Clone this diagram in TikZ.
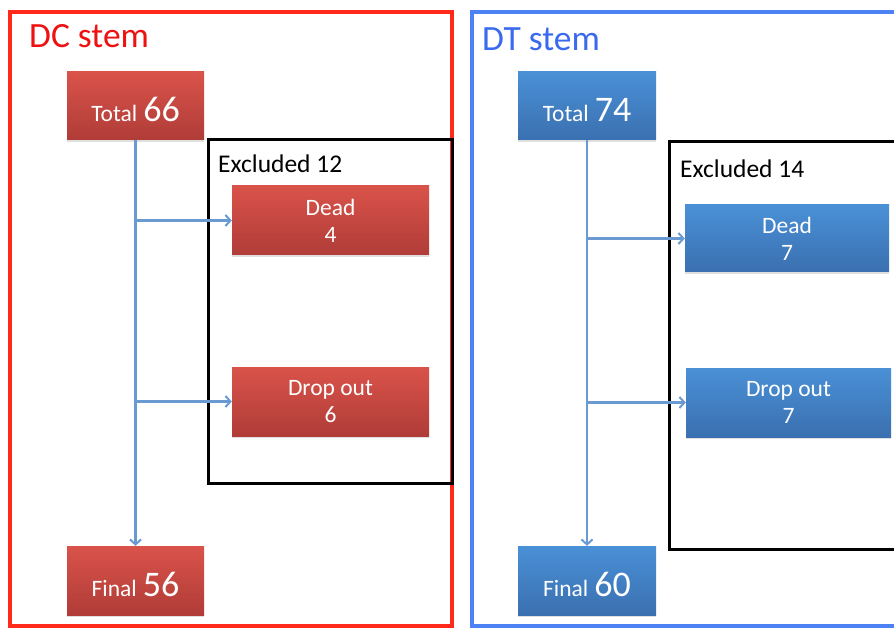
\documentclass[tikz,border=0pt]{standalone}
\usepackage{fontspec}
\setmainfont{Carlito}
\usetikzlibrary{arrows.meta,shadows}
\definecolor{frameRed}{HTML}{FF2A1A}
\definecolor{frameBlue}{HTML}{4D82F5}
\definecolor{titleRed}{HTML}{EE1111}
\definecolor{titleBlue}{HTML}{3A6AEE}
\definecolor{redTop}{HTML}{D9534A}
\definecolor{redBot}{HTML}{B03C38}
\definecolor{blueTop}{HTML}{4A90D6}
\definecolor{blueBot}{HTML}{3A70B0}
\definecolor{conn}{HTML}{6A9AD2}
\tikzset{
  redbox/.style={rectangle, top color=redTop, bottom color=redBot, draw=none, text=white,
    align=center, inner sep=0pt, drop shadow={opacity=0.25, shadow xshift=0pt, shadow yshift=-2pt}},
  bluebox/.style={rectangle, top color=blueTop, bottom color=blueBot, draw=none, text=white,
    align=center, inner sep=0pt, drop shadow={opacity=0.25, shadow xshift=0pt, shadow yshift=-2pt}},
  smallbox/.style={minimum width=137pt, minimum height=68pt},
  bigtxt/.style={font=\fontsize{23.5}{27}\selectfont},
  connector/.style={draw=conn, line width=2.3pt, -{Straight Barb[length=5pt,width=11pt,line width=2pt]}},
  title/.style={font=\fontsize{35.5}{38}\selectfont, anchor=base west, inner sep=0pt},
  exlabel/.style={font=\fontsize{25.5}{28}\selectfont, anchor=base west, inner sep=0pt}
}
\newcommand{\biglabel}[2]{\raisebox{-15.5pt}[0pt][0pt]{{\fontsize{23.5}{27}\selectfont #1}\hspace{6pt}{\fontsize{36}{38}\selectfont #2}}}
\begin{document}
\begin{tikzpicture}[x=1pt,y=-1pt]
\useasboundingbox (0,0) rectangle (894,628);
\clip (0,0) rectangle (894,628);
\fill[white] (0,0) rectangle (894,628);
% frames
\draw[frameRed, line width=3.5pt] (10,12) rectangle (452,626);
\draw[frameBlue, line width=3.5pt] (472,12) rectangle (910,626);
\node[title, text=titleRed] (dct) at (29,48) {DC stem};
\node[title, text=titleBlue] (dtt) at (482,51) {DT stem};
% excluded boxes
\draw[black, line width=3pt] (208,140) rectangle (452,483);
\draw[black, line width=3pt] (669,142) rectangle (910,549);
\node[exlabel] (ex1) at (218,173) {Excluded 12};
\node[exlabel] (ex2) at (680,178) {Excluded 14};
% left panel
\node[redbox, smallbox] (t1) at (135.5,106) {\biglabel{Total}{66}};
\node[redbox, minimum width=197pt, minimum height=69pt, bigtxt] (d1) at (330.5,220.5) {Dead\\4};
\node[redbox, minimum width=197pt, minimum height=69pt, bigtxt] (o1) at (330.5,401.5) {Drop out\\6};
\node[redbox, smallbox, minimum height=69pt] (f1) at (135.5,580.5) {\biglabel{Final}{56}};
\coordinate (b1a) at (t1.south |- d1.west);
\coordinate (b1b) at (t1.south |- o1.west);
\draw[connector] (t1.south) -- (f1.north);
\draw[connector] (b1a) -- (d1.west);
\draw[connector] (b1b) -- (o1.west);
% right panel
\node[bluebox, minimum width=138pt, minimum height=68pt] (t2) at (587,106) {\biglabel{Total}{74}};
\node[bluebox, minimum width=204pt, minimum height=67pt, bigtxt] (d2) at (787,238.5) {Dead\\7};
\node[bluebox, minimum width=205pt, minimum height=69pt, bigtxt] (o2) at (788.5,402.5) {Drop out\\7};
\node[bluebox, minimum width=138pt, minimum height=69pt] (f2) at (587,580.5) {\biglabel{Final}{60}};
\coordinate (b2a) at (t2.south |- d2.west);
\coordinate (b2b) at (t2.south |- o2.west);
\draw[connector] (t2.south) -- (f2.north);
\draw[connector] (b2a) -- (d2.west);
\draw[connector] (b2b) -- (o2.west);
\end{tikzpicture}
\end{document}
